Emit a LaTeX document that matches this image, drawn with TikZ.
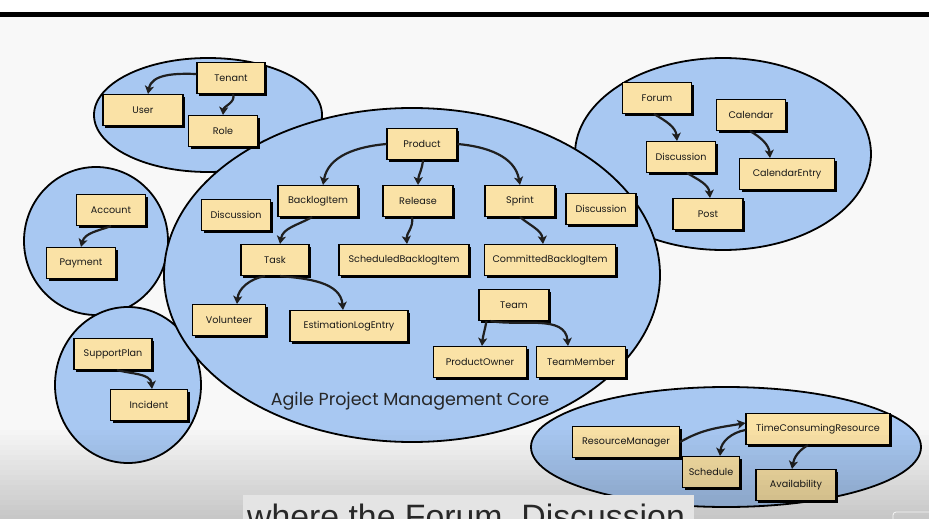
\documentclass[tikz,border=0pt]{standalone}
\usepackage{fontspec}
\setmainfont{Poppins}
\newfontfamily\subfont{Liberation Sans}
\usetikzlibrary{arrows.meta,shadows}
\definecolor{blobfill}{RGB}{168,200,242}
\definecolor{boxfill}{RGB}{250,226,166}
\definecolor{bgc}{RGB}{248,248,248}
\definecolor{subbox}{RGB}{228,228,228}
\definecolor{subtext}{RGB}{40,40,40}
\begin{document}
\begin{tikzpicture}[x=1pt,y=-1pt,
  blob/.style={fill=blobfill, draw=black, line width=1.8pt},
  ent/.style={draw=black, fill=boxfill, line width=1.1pt, minimum height=31pt,
    inner sep=0pt, font=\fontsize{9.6}{10}\selectfont, text=black!90,
    drop shadow={shadow xshift=2.2pt, shadow yshift=-2.2pt, fill=black, opacity=1}},
  arr/.style={draw=black!88, line width=2.2pt,
    -{Stealth[length=8pt,width=9pt,inset=2pt]}}
]
\useasboundingbox (0,0) rectangle (929,519);
\fill[white] (0,0) rectangle (929,519);
\fill[bgc] (0,17) rectangle (929,519);
\fill[black] (0,12) rectangle (929,17);

% contexts
\draw[blob] (208,115) ellipse [x radius=114pt, y radius=57pt];
\draw[blob] (96,241) ellipse [x radius=72pt, y radius=74pt];
\draw[blob] (128,385) ellipse [x radius=73pt, y radius=78pt];
\draw[blob] (723,154) ellipse [x radius=148pt, y radius=96pt];
\draw[blob] (726,447) ellipse [x radius=195pt, y radius=60pt];
\draw[blob] (412,275) ellipse [x radius=248pt, y radius=167pt];

% identity
\node[ent, minimum width=68pt] (tenant) at (231,78) {Tenant};
\node[ent, minimum width=80pt] (user) at (143,110) {User};
\node[ent, minimum width=69pt] (role) at (223,131) {Role};
% account
\node[ent, minimum width=69pt] (account) at (111,210) {Account};
\node[ent, minimum width=69pt] (payment) at (81,263) {Payment};
% support
\node[ent, minimum width=78pt] (support) at (113,354) {SupportPlan};
\node[ent, minimum width=77pt] (incident) at (149,405) {Incident};
% core
\node[ent, minimum width=70pt] (product) at (422,144) {Product};
\node[ent, minimum width=80pt] (backlog) at (318,201) {BacklogItem};
\node[ent, minimum width=70pt] (release) at (418,201) {Release};
\node[ent, minimum width=70pt] (sprint) at (520,201) {Sprint};
\node[ent, minimum width=69pt] (disc1) at (236,215) {Discussion};
\node[ent, minimum width=70pt] (disc2) at (601,209) {Discussion};
\node[ent, minimum width=68pt] (task) at (275,260) {Task};
\node[ent, minimum width=130pt] (sbi) at (404,260) {ScheduledBacklogItem};
\node[ent, minimum width=131pt] (cbi) at (550,260) {CommittedBacklogItem};
\node[ent, minimum width=73pt] (volunteer) at (229,320) {Volunteer};
\node[ent, minimum width=118pt] (ele) at (349,326) {EstimationLogEntry};
\node[ent, minimum width=70pt] (team) at (514,305) {Team};
\node[ent, minimum width=93pt] (po) at (480,362) {ProductOwner};
\node[ent, minimum width=89pt] (tm) at (581,362) {TeamMember};
% collaboration
\node[ent, minimum width=69pt] (forum) at (657,98) {Forum};
\node[ent, minimum width=69pt] (calendar) at (751,115) {Calendar};
\node[ent, minimum width=69pt] (disc3) at (681,157) {Discussion};
\node[ent, minimum width=95pt] (ce) at (787,174) {CalendarEntry};
\node[ent, minimum width=70pt] (post) at (708,214) {Post};
% resources
\node[ent, minimum width=107pt] (rm) at (626,442) {ResourceManager};
\node[ent, minimum width=144pt] (tcr) at (818,429) {TimeConsumingResource};
\node[ent, minimum width=57pt] (schedule) at (711,472) {Schedule};
\node[ent, minimum width=80pt] (avail) at (796,485) {Availability};

% arrows
\draw[arr] ([yshift=4pt]tenant.west) to[out=178,in=80] ([xshift=5pt]user.north);
\draw[arr] ([xshift=2pt]tenant.south) to[out=-70,in=85] (role.north);
\draw[arr] (account.south) to[out=-160,in=75] (payment.north);
\draw[arr] ([xshift=4pt]support.south) to[out=-15,in=95] ([xshift=3pt]incident.north);
\draw[arr] (product.west) to[out=185,in=80] ([xshift=5pt]backlog.north);
\draw[arr] ([xshift=1pt]product.south) to[out=-95,in=88] (release.north);
\draw[arr] (product.east) to[out=-5,in=100] (sprint.north);
\draw[arr] ([xshift=-6pt]backlog.south) to[out=-150,in=80] ([xshift=5pt]task.north);
\draw[arr] ([xshift=-6pt]release.south) to[out=-80,in=95] ([xshift=3pt]sbi.north);
\draw[arr] (sprint.south) to[out=-40,in=95] ([xshift=-7pt]cbi.north);
\draw[arr] ([xshift=-10pt]task.south) to[out=190,in=85] ([xshift=8pt]volunteer.north);
\draw[arr] ([xshift=5pt]task.south) to[out=-5,in=95] ([xshift=-6pt]ele.north);
\draw[arr] ([xshift=8pt]team.south west) to[out=-100,in=85] ([xshift=2pt]po.north);
\draw[arr] ([xshift=12pt]team.south west) to[out=-10,in=95] ([xshift=-13pt]tm.north);
\draw[arr] ([xshift=-3pt]forum.south) to[out=-30,in=95] ([xshift=-4pt]disc3.north);
\draw[arr] ([xshift=6pt]disc3.south) to[out=-30,in=95] ([xshift=2pt]post.north);
\draw[arr] ([xshift=-1pt]calendar.south) to[out=-30,in=95] ([xshift=-17pt]ce.north);
\draw[arr] (rm.east) to[out=30,in=190] ([yshift=6pt]tcr.west);
\draw[arr] ([yshift=-1pt]tcr.west) to[out=190,in=85] ([xshift=9pt]schedule.north);
\draw[arr] ([xshift=-10pt]tcr.south) to[out=-150,in=80] ([xshift=-4pt]avail.north);

\node[font=\fontsize{17.5}{19}\selectfont, text=black!85] (corelabel) at (410,401) {Agile Project Management Core};

% video overlay
\foreach \i [evaluate=\i as \op using 0.011*(\i+1)] in {0,...,17}
  \fill[black, opacity=\op] (0,{430+5*\i}) rectangle (929,{435+5*\i});
\begin{scope}
\clip (0,0) rectangle (929,519);
\fill[subbox] (243,495) rectangle (694,530);
\node[anchor=base west, inner sep=0pt, text=subtext, font=\subfont\fontsize{33.8}{34}\selectfont] (subtitle) at (247,528) {where the Forum, Discussion};
\draw[white!92!gray, line width=0.8pt, rounded corners=3pt] (893,512) rectangle (945,540);
\end{scope}
\end{tikzpicture}
\end{document}
